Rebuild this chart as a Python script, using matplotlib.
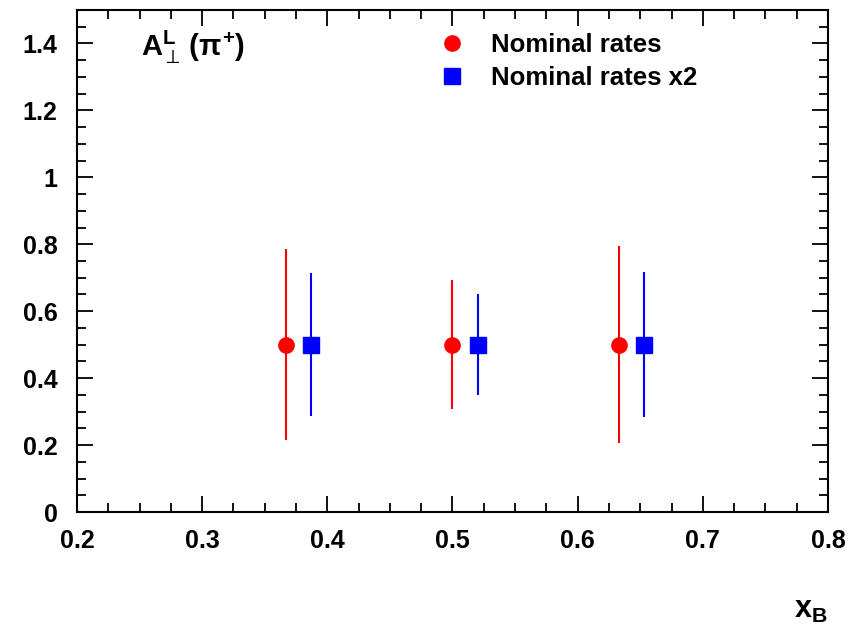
import numpy as np
import matplotlib
matplotlib.use('Agg')
import matplotlib.pyplot as plt
from matplotlib.ticker import MultipleLocator, FuncFormatter
from matplotlib.lines import Line2D

# data
x_nominal = [0.367, 0.500, 0.633]
y_nominal = [0.50, 0.50, 0.50]
err_nominal = [0.285, 0.192, 0.294]

x_double = [0.387, 0.520, 0.653]
y_double = [0.50, 0.50, 0.50]
err_double = [0.213, 0.150, 0.217]

plt.rcParams['font.family'] = ['Liberation Sans', 'DejaVu Sans']
plt.rcParams['mathtext.fontset'] = 'custom'
plt.rcParams['mathtext.rm'] = 'Liberation Sans:bold'
plt.rcParams['mathtext.it'] = 'Liberation Sans:bold'
plt.rcParams['mathtext.bf'] = 'Liberation Sans:bold'
plt.rcParams['mathtext.sf'] = 'DejaVu Sans'

fig = plt.figure(figsize=(8.58, 6.32), dpi=100)
ax = fig.add_axes([77/858, 1 - 512/632, 751/858, 502/632])

ax.errorbar(x_nominal, y_nominal, yerr=err_nominal, fmt='o', color='red',
            ms=11, elinewidth=1.5, capsize=0)
ax.errorbar(x_double, y_double, yerr=err_double, fmt='s', color='blue',
            ms=11, elinewidth=1.5, capsize=0)

ax.set_xlim(0.2, 0.8)
ax.set_ylim(0, 1.5)

ax.xaxis.set_major_locator(MultipleLocator(0.1))
ax.xaxis.set_minor_locator(MultipleLocator(0.025))
ax.yaxis.set_major_locator(MultipleLocator(0.2))
ax.yaxis.set_minor_locator(MultipleLocator(0.05))
fmt = FuncFormatter(lambda v, p: '%g' % round(v, 3))
ax.xaxis.set_major_formatter(fmt)
ax.yaxis.set_major_formatter(fmt)

ax.tick_params(which='both', direction='in', top=True, right=True, width=1.3)
ax.tick_params(which='major', length=11.5, labelsize=18)
ax.tick_params(axis='y', which='major', pad=14)
ax.tick_params(axis='x', which='major', pad=12)
ax.tick_params(which='minor', length=6.5)
for s in ax.spines.values():
    s.set_linewidth(1.5)
for lab in ax.get_xticklabels() + ax.get_yticklabels():
    lab.set_fontweight('bold')

# perp sign comes from DejaVu Sans (sf), Liberation lacks it
ax.text(0.085, 0.925, r'$\mathrm{A}_{\mathsf{\perp}}^{\mathrm{L}}\,(\pi^{+})$',
        transform=ax.transAxes, fontsize=21, ha='left', va='center')
ax.text(1.0, -0.195, r'$\mathrm{x}_{\mathrm{B}}$', transform=ax.transAxes,
        fontsize=22, ha='right', va='center')

handles = [Line2D([], [], ls='none', marker='o', color='red', ms=11),
           Line2D([], [], ls='none', marker='s', color='blue', ms=11)]
ax.legend(handles, ['Nominal rates', 'Nominal rates x2'],
          loc='upper left', bbox_to_anchor=(0.452, 1.0), frameon=False,
          prop={'size': 18.5, 'weight': 'bold'}, handletextpad=1.0,
          labelspacing=0.35, handlelength=1.0)

plt.savefig('out.png', dpi=100)
